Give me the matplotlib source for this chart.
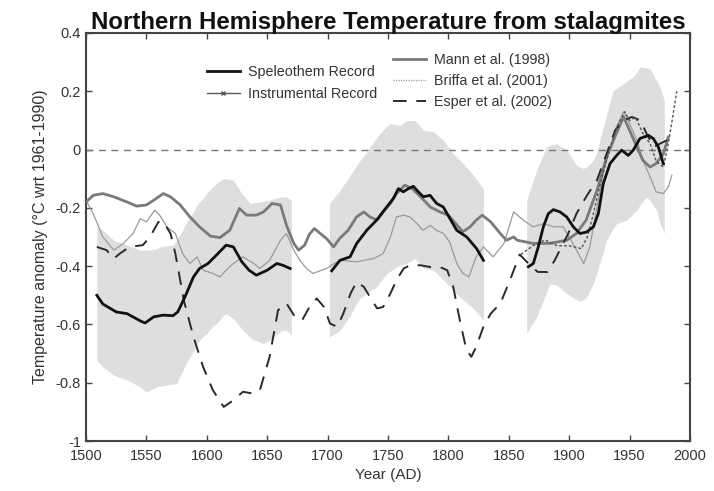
import numpy as np
import matplotlib
matplotlib.use("Agg")
import matplotlib.pyplot as plt
from matplotlib.lines import Line2D

plt.rcParams['font.family'] = ['Liberation Sans', 'DejaVu Sans']

nan = np.nan

# ---- Speleothem uncertainty band (three segments) ----
band1_years = [1509, 1514, 1523, 1534, 1545, 1550, 1553, 1559, 1561, 1567, 1572, 1575, 1580, 1583, 1589, 1592, 1597, 1600, 1605, 1608, 1614, 1616, 1622, 1629, 1630, 1636, 1639, 1644, 1647, 1652, 1655, 1661, 1663, 1666, 1670]
band1_upper = [-0.265, -0.277, -0.311, -0.328, -0.345, -0.345, -0.345, -0.340, -0.334, -0.330, -0.328, -0.31, -0.277, -0.25, -0.214, -0.19, -0.168, -0.15, -0.128, -0.115, -0.10, -0.10, -0.105, -0.151, -0.155, -0.185, -0.183, -0.18, -0.177, -0.174, -0.17, -0.162, -0.162, -0.162, -0.174]
band1_lower = [-0.723, -0.746, -0.774, -0.791, -0.814, -0.831, -0.825, -0.814, -0.812, -0.808, -0.805, -0.803, -0.76, -0.734, -0.69, -0.666, -0.64, -0.631, -0.605, -0.597, -0.57, -0.563, -0.58, -0.615, -0.62, -0.645, -0.654, -0.66, -0.666, -0.655, -0.643, -0.625, -0.62, -0.62, -0.637]

band2_years = [1701.5, 1710.3, 1716, 1718.6, 1724, 1727, 1732.4, 1735, 1740.6, 1743.4, 1749, 1751.7, 1757, 1760, 1765.5, 1772.4, 1779.3, 1787.6, 1796, 1804, 1812.4, 1820.7, 1829]
band2_upper = [-0.185, -0.14, -0.105, -0.088, -0.055, -0.037, -0.01, 0.009, 0.04, 0.055, 0.08, 0.089, 0.085, 0.083, 0.1, 0.1, 0.066, 0.061, 0.032, -0.014, -0.048, -0.088, -0.134]
band2_lower = [-0.643, -0.62, -0.585, -0.57, -0.528, -0.51, -0.494, -0.485, -0.471, -0.455, -0.425, -0.418, -0.403, -0.398, -0.391, -0.374, -0.408, -0.414, -0.448, -0.483, -0.517, -0.545, -0.585]

band3_years = [1864.8, 1873, 1881.3, 1884, 1889.6, 1898, 1906, 1909, 1911.7, 1914.4, 1920, 1922.7, 1928.3, 1931, 1936.5, 1939.3, 1945, 1947.6, 1953, 1955.9, 1958.6, 1964, 1966.9, 1972.4, 1975, 1978.7]
band3_upper = [-0.174, -0.071, 0.009, 0.015, 0.02, -0.002, -0.054, -0.06, -0.065, -0.06, -0.037, -0.01, 0.078, 0.12, 0.203, 0.21, 0.226, 0.235, 0.249, 0.265, 0.284, 0.28, 0.278, 0.235, 0.215, 0.169]
band3_lower = [-0.631, -0.575, -0.49, -0.46, -0.465, -0.494, -0.515, -0.52, -0.515, -0.505, -0.46, -0.425, -0.35, -0.311, -0.27, -0.254, -0.245, -0.242, -0.22, -0.208, -0.19, -0.162, -0.175, -0.208, -0.25, -0.288]

# ---- Speleothem record (three segments separated by NaN) ----
speleo_years = [1509, 1514, 1525, 1534, 1546, 1549, 1556, 1564, 1572, 1576, 1582, 1589, 1594, 1601, 1608, 1616, 1622, 1629, 1635, 1641, 1650, 1658, 1663, 1669,
                1685,
                1703.4, 1710.3, 1718.6, 1724.1, 1732.4, 1740.6, 1748.9, 1754.4, 1758.6, 1762.7, 1766.9, 1771, 1775.1, 1779.3, 1784.8, 1790.3, 1795.8, 1801.3, 1806.9, 1815.2, 1823.4, 1829,
                1845,
                1866.2, 1870.3, 1874.4, 1878.6, 1882.7, 1886.9, 1892.4, 1897.9, 1903.4, 1908.9, 1914.4, 1920, 1924.1, 1928.2, 1933.8, 1939.3, 1943.4, 1948.9, 1953, 1958.6, 1965.5, 1969.6, 1973.8, 1977.9]
speleo_vals = [-0.50, -0.53, -0.557, -0.563, -0.59, -0.595, -0.574, -0.568, -0.57, -0.557, -0.505, -0.437, -0.408, -0.391, -0.362, -0.328, -0.334, -0.385, -0.414, -0.431, -0.414, -0.391, -0.397, -0.408,
               nan,
               -0.416, -0.38, -0.368, -0.322, -0.277, -0.242, -0.197, -0.168, -0.134, -0.145, -0.134, -0.126, -0.145, -0.162, -0.157, -0.185, -0.197, -0.237, -0.277, -0.30, -0.34, -0.38,
               nan,
               -0.402, -0.391, -0.334, -0.265, -0.22, -0.206, -0.214, -0.231, -0.265, -0.288, -0.283, -0.265, -0.22, -0.117, -0.048, -0.02, -0.002, -0.02, -0.002, 0.038, 0.049, 0.038, 0.009, -0.048]

# ---- Instrumental record ----
instr_years = [1860, 1870, 1880, 1890, 1900, 1910, 1915, 1920, 1925, 1930, 1935, 1940, 1946, 1950, 1955, 1961, 1967, 1972, 1978, 1982, 1986, 1989]
instr_vals = [-0.36, -0.33, -0.31, -0.33, -0.33, -0.34, -0.30, -0.22, -0.13, -0.05, 0.02, 0.08, 0.13, 0.10, 0.11, 0.055, 0.02, -0.04, -0.06, 0.02, 0.12, 0.20]

# ---- Mann et al. (1998) ----
mann_years = [1500, 1506, 1514, 1523, 1534, 1542, 1550, 1556, 1564, 1570, 1578, 1586, 1594, 1603, 1611, 1619, 1627, 1633, 1641, 1647, 1654, 1661, 1666, 1672, 1676, 1681, 1685, 1689, 1694, 1699, 1705, 1710, 1717, 1724, 1730, 1735, 1741, 1746, 1752, 1757, 1764, 1770, 1777, 1785, 1793, 1800, 1806, 1812, 1818, 1823, 1828, 1835, 1843, 1848, 1854, 1857, 1870, 1884, 1898, 1906, 1914, 1923, 1931, 1939, 1945, 1950, 1956, 1961, 1967, 1972, 1978, 1982]
mann_vals = [-0.18, -0.157, -0.151, -0.162, -0.18, -0.194, -0.19, -0.174, -0.151, -0.162, -0.19, -0.231, -0.265, -0.297, -0.302, -0.277, -0.202, -0.225, -0.225, -0.214, -0.185, -0.19, -0.26, -0.322, -0.345, -0.328, -0.29, -0.271, -0.288, -0.305, -0.334, -0.305, -0.277, -0.231, -0.214, -0.231, -0.242, -0.214, -0.185, -0.151, -0.122, -0.134, -0.162, -0.197, -0.214, -0.225, -0.254, -0.282, -0.265, -0.242, -0.225, -0.248, -0.288, -0.311, -0.30, -0.311, -0.322, -0.322, -0.311, -0.288, -0.242, -0.14, -0.025, 0.055, 0.112, 0.066, 0.009, -0.037, -0.06, -0.048, -0.014, 0.043]

# ---- Briffa et al. (2001) ----
briffa_years = [1500, 1506, 1514, 1523, 1531, 1539, 1545, 1550, 1557, 1561, 1567, 1574, 1580, 1586, 1592, 1597, 1605, 1611, 1616, 1622, 1630, 1639, 1644, 1652, 1661, 1666, 1672, 1677, 1683, 1688, 1699, 1710, 1724, 1738, 1746, 1752, 1757, 1763, 1768, 1774, 1779, 1785, 1790, 1796, 1801, 1807, 1812, 1817, 1823, 1829, 1837, 1846, 1851, 1854, 1862, 1870, 1879, 1887, 1895, 1903, 1912, 1917, 1923, 1928, 1934, 1939, 1945, 1950, 1956, 1961, 1967, 1972, 1978, 1982, 1985]
briffa_vals = [-0.174, -0.22, -0.30, -0.345, -0.322, -0.288, -0.237, -0.248, -0.208, -0.225, -0.265, -0.288, -0.357, -0.391, -0.368, -0.414, -0.425, -0.437, -0.414, -0.391, -0.368, -0.391, -0.408, -0.38, -0.311, -0.288, -0.345, -0.38, -0.41, -0.425, -0.408, -0.38, -0.385, -0.374, -0.357, -0.30, -0.231, -0.225, -0.231, -0.254, -0.277, -0.26, -0.277, -0.288, -0.317, -0.391, -0.425, -0.437, -0.368, -0.334, -0.368, -0.322, -0.254, -0.214, -0.242, -0.265, -0.254, -0.265, -0.265, -0.322, -0.391, -0.334, -0.197, -0.083, 0.009, 0.077, 0.13, 0.089, 0.032, -0.037, -0.094, -0.145, -0.151, -0.128, -0.088]

# ---- Esper et al. (2002) ----
esper_years = [1509, 1517, 1523, 1528, 1536, 1547, 1553, 1560, 1564, 1570, 1574, 1581, 1589, 1597, 1605, 1614, 1622, 1630, 1638, 1644, 1652, 1659, 1666, 1673, 1679, 1685, 1691, 1697, 1702, 1708, 1713, 1719, 1724, 1730, 1735, 1741, 1746, 1752, 1757, 1763, 1768, 1777, 1785, 1793, 1799, 1804, 1810, 1815, 1819, 1823, 1829, 1835, 1843, 1851, 1859, 1866, 1874, 1882, 1888, 1894, 1899, 1906, 1914, 1923, 1931, 1938, 1945, 1952, 1959, 1964, 1970, 1975, 1981]
esper_vals = [-0.334, -0.345, -0.374, -0.357, -0.334, -0.328, -0.30, -0.248, -0.248, -0.288, -0.357, -0.517, -0.643, -0.746, -0.825, -0.883, -0.86, -0.831, -0.837, -0.825, -0.711, -0.551, -0.528, -0.574, -0.585, -0.54, -0.511, -0.54, -0.597, -0.608, -0.563, -0.494, -0.454, -0.471, -0.505, -0.545, -0.54, -0.494, -0.448, -0.408, -0.397, -0.397, -0.403, -0.403, -0.414, -0.471, -0.597, -0.688, -0.711, -0.677, -0.608, -0.563, -0.528, -0.448, -0.36, -0.39, -0.42, -0.42, -0.38, -0.33, -0.29, -0.22, -0.162, -0.105, -0.014, 0.066, 0.10, 0.112, 0.10, 0.055, 0.009, 0.02, 0.032]

x_ticks = [1500, 1550, 1600, 1650, 1700, 1750, 1800, 1850, 1900, 1950, 2000]
y_ticks = [0.4, 0.2, 0, -0.2, -0.4, -0.6, -0.8, -1]
y_tick_labels = ['0.4', '0.2', '0', '-0.2', '-0.4', '-0.6', '-0.8', '-1']

fig = plt.figure(figsize=(7.14, 4.91), dpi=100)
ax = fig.add_axes([0.1204, 0.1018, 0.8460, 0.8310])

band_col = '#dedede'
for yrs, up, lo in [(band1_years, band1_upper, band1_lower),
                    (band2_years, band2_upper, band2_lower),
                    (band3_years, band3_upper, band3_lower)]:
    ax.fill_between(yrs, lo, up, color=band_col, lw=0, zorder=1)

ax.axhline(0, color='#777777', lw=1.0, ls=(0, (5, 4)), zorder=2)

ax.plot(briffa_years, briffa_vals, color='#9a9a9a', lw=0.9, zorder=3)
ax.plot(mann_years, mann_vals, color='#7a7a7a', lw=2.0, zorder=4)
ax.plot(esper_years, esper_vals, color='#2a2a2a', lw=1.4, ls=(0, (7, 5)), zorder=5)
ax.plot(instr_years, instr_vals, color='#555555', lw=1.0, ls=(0, (2, 1.5)), zorder=6)
ax.plot(speleo_years, speleo_vals, color='#111111', lw=2.0, zorder=7)

ax.set_xlim(1500, 2000)
ax.set_ylim(-1, 0.4)
ax.set_xticks(x_ticks)
ax.set_xticklabels([str(v) for v in x_ticks])
ax.set_yticks(y_ticks)
ax.set_yticklabels(y_tick_labels)
ax.tick_params(direction='in', top=True, right=True, length=4, width=1.0,
               colors='#444444', labelcolor='#333333', labelsize=10.5)
ax.tick_params(axis='x', pad=6)
for s in ax.spines.values():
    s.set_color('#444444')
    s.set_linewidth(1.5)

ax.set_xlabel('Year (AD)', fontsize=11, color='#333333', labelpad=3)
ax.set_ylabel('Temperature anomaly (°C wrt 1961-1990)', fontsize=11.5, color='#333333', labelpad=6)
ax.set_title('Northern Hemisphere Temperature from stalagmites', fontsize=17.3,
             fontweight='bold', color='#111111', pad=3)

fs = 10.3
h1 = [Line2D([], [], color='#111111', lw=2.0),
      Line2D([], [], color='#555555', lw=1.0, marker='x', markersize=3.5, markevery=[0, 2])]
l1 = ax.legend(h1, ['Speleothem Record', 'Instrumental Record'], loc='upper left',
               bbox_to_anchor=(0.200, 0.922), frameon=False, fontsize=fs,
               borderpad=0, borderaxespad=0,
               handlelength=2.3, labelspacing=0.6, handletextpad=0.56, labelcolor='#333333')
ax.add_artist(l1)
h2 = [Line2D([], [], color='#7a7a7a', lw=2.0),
      Line2D([], [], color='#9a9a9a', lw=0.9, ls=(0, (1, 1))),
      Line2D([], [], color='#2a2a2a', lw=1.4, ls=(0, (7, 5)))]
ax.legend(h2, ['Mann et al. (1998)', 'Briffa et al. (2001)', 'Esper et al. (2002)'],
          loc='upper left', bbox_to_anchor=(0.508, 0.952), frameon=False, fontsize=fs,
          borderpad=0, borderaxespad=0,
          handlelength=2.3, labelspacing=0.5, handletextpad=0.56, labelcolor='#333333')

fig.savefig('out.png', dpi=100)
